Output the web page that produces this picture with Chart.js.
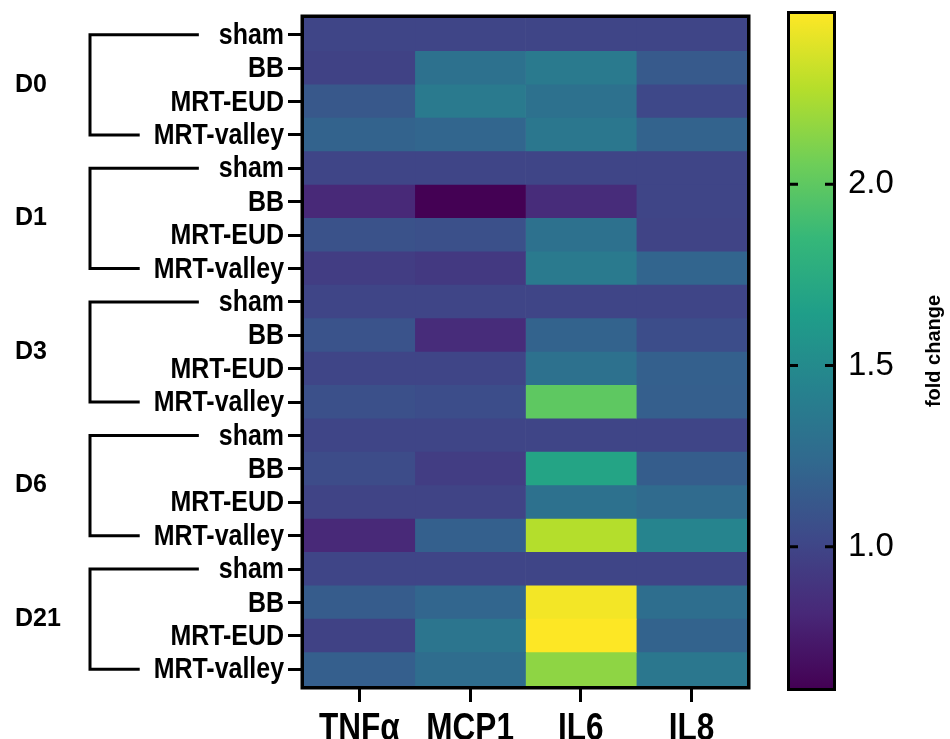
<!DOCTYPE html>
<html>
<head>
<meta charset="utf-8">
<script src="https://cdn.jsdelivr.net/npm/chart.js@4.4.1/dist/chart.umd.min.js"></script>
<style>
  html, body { margin: 0; padding: 0; background: #fff; }
  #wrap { position: relative; width: 950px; height: 739px; }
  #heat { position: absolute; left: 0; top: 0; }
  #bar { position: absolute; left: 765px; top: 0; }
</style>
</head>
<body>
<div id="wrap">
  <canvas id="heat" width="765" height="739"></canvas>
  <canvas id="bar" width="185" height="739"></canvas>
</div>
<script>
// filas (de arriba a abajo) y columnas del heatmap
const rowLabels = [
  'sham', 'BB', 'MRT-EUD', 'MRT-valley',
  'sham', 'BB', 'MRT-EUD', 'MRT-valley',
  'sham', 'BB', 'MRT-EUD', 'MRT-valley',
  'sham', 'BB', 'MRT-EUD', 'MRT-valley',
  'sham', 'BB', 'MRT-EUD', 'MRT-valley'
];
const groupLabels = ['D0', 'D1', 'D3', 'D6', 'D21'];
const colLabels = ['TNFα', 'MCP1', 'IL6', 'IL8'];

// fold change por citoquina (mismo orden que rowLabels)
const tnfa = [1.00, 0.98, 1.12, 1.20,  1.00, 0.82, 1.08, 0.95,  1.00, 1.09, 1.00, 1.07,  1.00, 1.04, 0.99, 0.82,  1.00, 1.15, 0.98, 1.17];
const mcp1 = [1.00, 1.30, 1.37, 1.22,  1.00, 0.61, 1.07, 0.92,  1.00, 0.84, 1.00, 1.05,  1.00, 0.95, 0.99, 1.18,  1.00, 1.22, 1.33, 1.27];
const il6  = [1.00, 1.37, 1.30, 1.35,  1.00, 0.84, 1.30, 1.37,  1.00, 1.20, 1.30, 2.00,  1.00, 1.69, 1.30, 2.26,  1.00, 2.44, 2.47, 2.15];
const il8  = [1.00, 1.14, 1.02, 1.20,  1.00, 1.00, 0.99, 1.21,  1.00, 1.05, 1.18, 1.17,  1.00, 1.16, 1.25, 1.45,  1.00, 1.28, 1.20, 1.35];

// rango de la barra de color
const scaleMin = 0.61;
const scaleMax = 2.47;
const cbTicks = [1.0, 1.5, 2.0];

const SANS = '"Liberation Sans", Arial, sans-serif';

// viridis
const VIRIDIS = ['#440154', '#482878', '#3e4989', '#31688e', '#26828e', '#1f9e89', '#35b779', '#6ece58', '#b5de2b', '#fde725'];

function hexToRgb(h) {
    return [parseInt(h.slice(1, 3), 16), parseInt(h.slice(3, 5), 16), parseInt(h.slice(5, 7), 16)];
}

function viridis(v) {
    let t = (v - scaleMin) / (scaleMax - scaleMin);
    t = Math.max(0, Math.min(1, t));
    const pos = t * (VIRIDIS.length - 1);
    const i = Math.min(Math.floor(pos), VIRIDIS.length - 2);
    const f = pos - i;
    const a = hexToRgb(VIRIDIS[i]), b = hexToRgb(VIRIDIS[i + 1]);
    const c = a.map((x, k) => Math.round(x + (b[k] - x) * f));
    return `rgb(${c[0]}, ${c[1]}, ${c[2]})`;
}

// texto estrecho (la fuente original es condensada)
function narrowText(ctx, text, x, y, sx) {
    ctx.save();
    ctx.translate(x, y);
    ctx.scale(sx, 1);
    ctx.fillText(text, 0, 0);
    ctx.restore();
}

// etiquetas, marco, corchetes y grupos
const heatDecor = {
    id: 'heatDecor',
    afterDraw(chart) {
        const { ctx, chartArea: a } = chart;
        const x = chart.scales.x;
        const y = chart.scales.y;
        ctx.save();
        ctx.fillStyle = '#000';
        ctx.strokeStyle = '#000';

        // etiquetas de filas
        const rowSx = 0.86;
        const labelRight = a.left - 16 - 4;
        ctx.font = 'bold 29px ' + SANS;
        ctx.textAlign = 'right';
        ctx.textBaseline = 'middle';
        rowLabels.forEach((lab, i) => narrowText(ctx, lab, labelRight, y.getPixelForTick(i) + 1, rowSx));

        // etiquetas de columnas
        ctx.font = 'bold 38px ' + SANS;
        ctx.textAlign = 'center';
        ctx.textBaseline = 'alphabetic';
        x.ticks.forEach((t, i) => narrowText(ctx, colLabels[Math.floor(t.value)], x.getPixelForTick(i), 740, 0.83));

        // marco
        ctx.lineWidth = 3.5;
        ctx.strokeRect(a.left - 1.75, a.top - 1.75, a.right - a.left + 3.5, a.bottom - a.top + 3.5);

        // corchetes
        ctx.lineWidth = 3;
        ctx.font = 'bold 29px ' + SANS;
        const xBracket = 90;
        groupLabels.forEach((g, gi) => {
            const i0 = gi * 4, i1 = gi * 4 + 3;
            const yTop = y.getPixelForTick(i0);
            const yBot = y.getPixelForTick(i1);
            const xTop = labelRight - ctx.measureText(rowLabels[i0]).width * rowSx - 20;
            const xBot = labelRight - ctx.measureText(rowLabels[i1]).width * rowSx - 14;
            ctx.beginPath();
            ctx.moveTo(xTop, yTop);
            ctx.lineTo(xBracket, yTop);
            ctx.lineTo(xBracket, yBot);
            ctx.lineTo(xBot, yBot);
            ctx.stroke();
        });

        ctx.font = 'bold 25px ' + SANS;
        ctx.textAlign = 'left';
        ctx.textBaseline = 'middle';
        groupLabels.forEach((g, gi) => {
            const yc = (y.getPixelForTick(gi * 4 + 1) + y.getPixelForTick(gi * 4 + 2)) / 2;
            ctx.fillText(g, 15, yc);
        });
        ctx.restore();
    }
};

const series = [tnfa, mcp1, il6, il8];

new Chart(document.getElementById('heat'), {
    type: 'bar',
    data: {
        labels: rowLabels,
        datasets: series.map((vals, i) => ({
            label: colLabels[i],
            data: vals.map(() => 1),
            backgroundColor: vals.map(viridis),
            borderWidth: 0,
            barPercentage: 1,
            categoryPercentage: 1
        }))
    },
    options: {
        indexAxis: 'y',
        responsive: false,
        animation: false,
        layout: { padding: { top: 18, right: 18, left: 0, bottom: 0 } },
        plugins: { legend: { display: false }, tooltip: { enabled: false } },
        scales: {
            x: {
                type: 'linear',
                stacked: true,
                min: 0,
                max: 4,
                afterBuildTicks: s => { s.ticks = colLabels.map((_, i) => ({ value: i + 0.5 })); },
                afterFit: s => { s.height = 53; s.paddingLeft = 0; s.paddingRight = 0; },
                ticks: { display: false },
                grid: { drawOnChartArea: false, tickLength: 16, tickWidth: 3, tickColor: '#000' },
                border: { display: false }
            },
            y: {
                stacked: true,
                afterFit: s => { s.width = 304; s.paddingTop = 0; s.paddingBottom = 0; },
                ticks: { display: false, autoSkip: false },
                grid: { drawOnChartArea: false, offset: false, tickLength: 16, tickWidth: 3, tickColor: '#000' },
                border: { display: false }
            }
        }
    },
    plugins: [heatDecor]
});

// barra de color
const cbDecor = {
    id: 'cbDecor',
    afterDraw(chart) {
        const { ctx, chartArea: a } = chart;
        const y = chart.scales.y;
        ctx.save();
        ctx.strokeStyle = '#000';
        ctx.lineWidth = 3;
        cbTicks.forEach(v => {
            const py = y.getPixelForValue(v);
            ctx.beginPath();
            ctx.moveTo(a.left, py); ctx.lineTo(a.left + 8, py);
            ctx.moveTo(a.right, py); ctx.lineTo(a.right - 8, py);
            ctx.stroke();
        });
        ctx.strokeRect(a.left - 1.5, a.top - 1.5, a.right - a.left + 3, a.bottom - a.top + 3);

        ctx.translate(169, (a.top + a.bottom) / 2);
        ctx.rotate(-Math.PI / 2);
        ctx.font = 'bold 20px ' + SANS;
        ctx.fillStyle = '#000';
        ctx.textAlign = 'center';
        ctx.textBaseline = 'middle';
        ctx.fillText('fold change', 0, 0);
        ctx.restore();
    }
};

new Chart(document.getElementById('bar'), {
    type: 'bar',
    data: {
        labels: ['fold change'],
        datasets: [{
            data: [[scaleMin, scaleMax]],
            backgroundColor: c => {
                const ch = c.chart;
                if (!ch.chartArea) return VIRIDIS[0];
                const y = ch.scales.y;
                const g = ch.ctx.createLinearGradient(0, y.getPixelForValue(scaleMin), 0, y.getPixelForValue(scaleMax));
                VIRIDIS.forEach((col, i) => g.addColorStop(i / (VIRIDIS.length - 1), col));
                return g;
            },
            borderWidth: 0,
            barPercentage: 1,
            categoryPercentage: 1
        }]
    },
    options: {
        responsive: false,
        animation: false,
        layout: { padding: { left: 25, top: 14, bottom: 51, right: 0 } },
        plugins: { legend: { display: false }, tooltip: { enabled: false } },
        scales: {
            x: { display: false },
            y: {
                position: 'right',
                min: scaleMin,
                max: scaleMax,
                afterBuildTicks: s => { s.ticks = cbTicks.map(v => ({ value: v })); },
                afterFit: s => { s.width = 117; s.paddingTop = 0; s.paddingBottom = 0; },
                ticks: {
                    callback: v => v.toFixed(1),
                    color: '#000',
                    font: { family: SANS, size: 33 },
                    padding: 15
                },
                grid: { display: false, drawTicks: false },
                border: { display: false }
            }
        }
    },
    plugins: [cbDecor]
});
</script>
</body>
</html>
